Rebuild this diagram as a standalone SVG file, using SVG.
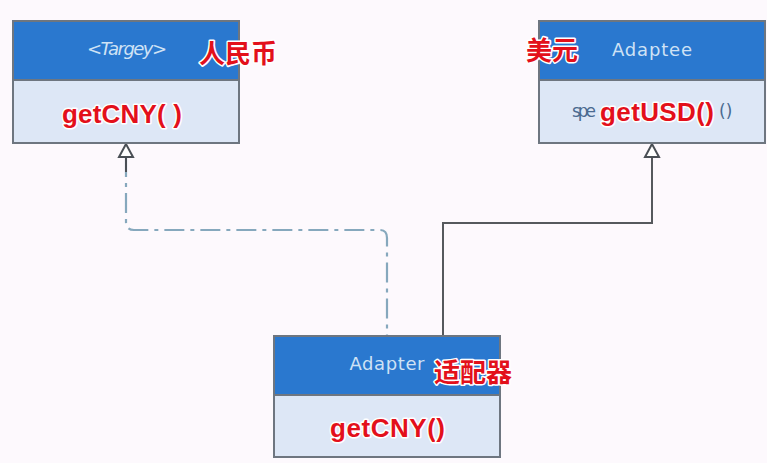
<svg xmlns="http://www.w3.org/2000/svg" width="767" height="463" viewBox="0 0 767 463">
<style>
.hdr{fill:#2a78cf;stroke:#6e7680;stroke-width:2}
.body{fill:#dde7f6;stroke:#6e7680;stroke-width:2}
.name{font-family:"DejaVu Sans","Lato",sans-serif;font-size:18px;fill:#cfe2f5;text-anchor:middle}
.red{font-family:"Liberation Sans","Noto Sans CJK SC",sans-serif;font-weight:bold;font-size:26px;fill:#e3101b;stroke:#ffffff;stroke-width:3;paint-order:stroke;stroke-linejoin:round}
.meth{font-family:"DejaVu Sans","Lato",sans-serif;font-size:17px;fill:#4a6a90}
.tri{fill:#ffffff;stroke:#4a4f55;stroke-width:2}
</style>
<rect width="767" height="463" fill="#fdf9fd"/>
<g id="connectors" fill="none">
  <path d="M126,157 V222 Q126,230 134,230 H380 Q387,230 387,238 V336" stroke="#86a8bd" stroke-width="2.2" stroke-dasharray="20,6,4,6"/>
  <path d="M126,157 V172" stroke="#4a4f55" stroke-width="2"/>
  <path d="M652,157 V223 H443 V336" stroke="#56595d" stroke-width="2"/>
  <polygon class="tri" points="126,144 119,157 133,157"/>
  <polygon class="tri" points="652,144 645,157 659,157"/>
</g>
<g id="target">
  <rect class="body" x="13" y="80" width="226" height="63"/>
  <rect class="hdr" x="13" y="21" width="226" height="59"/>
  <text class="name" x="127" y="55" font-style="italic" textLength="80">&lt;Targey&gt;</text>
  <text class="red" x="199" y="63">人民币</text>
  <text class="red" x="62" y="123" textLength="120">getCNY( )</text>
</g>
<g id="adaptee">
  <rect class="body" x="539" y="80" width="226" height="63"/>
  <rect class="hdr" x="539" y="21" width="226" height="59"/>
  <text class="name" x="652" y="56" textLength="80">Adaptee</text>
  <text class="red" x="526" y="60">美元</text>
  <text class="meth" x="572" y="117" textLength="24">spe</text>
  <text class="meth" x="719" y="117">()</text>
  <text class="red" x="600" y="121" textLength="114">getUSD()</text>
</g>
<g id="adapter">
  <rect class="body" x="274" y="395" width="226" height="62"/>
  <rect class="hdr" x="274" y="336" width="226" height="59"/>
  <text class="name" x="387" y="370" textLength="75">Adapter</text>
  <text class="red" x="434" y="382">适配器</text>
  <text class="red" x="330" y="437" textLength="115">getCNY()</text>
</g>
</svg>
